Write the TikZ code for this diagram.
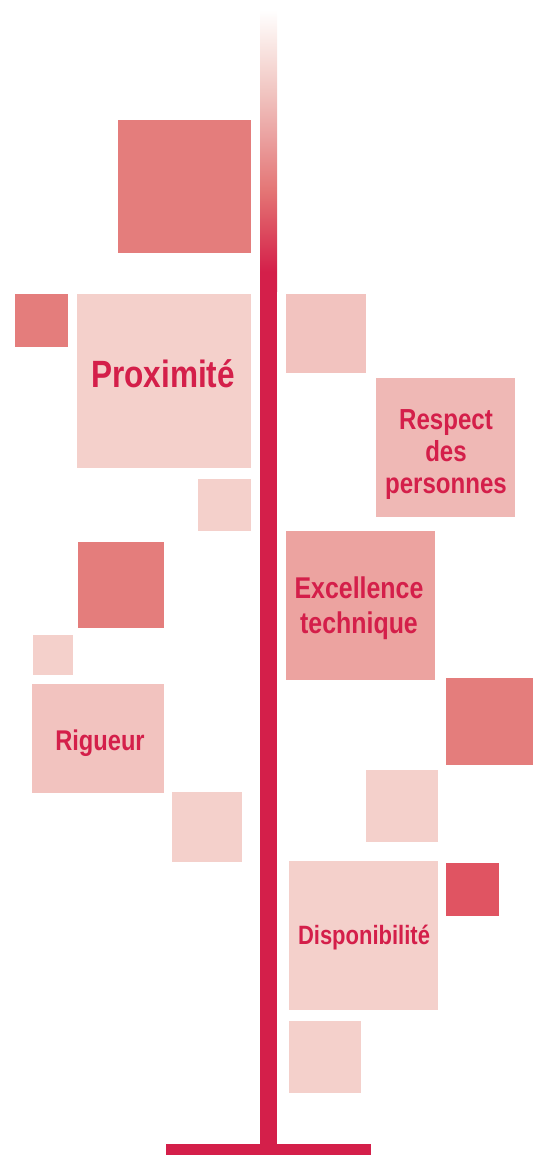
\documentclass[tikz,border=0pt]{standalone}
\usepackage{fontspec}
\setmainfont{Liberation Sans}[FakeStretch=0.83]
\definecolor{crimson}{HTML}{D41F4A}
\definecolor{sqdark}{HTML}{E47D7C}
\definecolor{sqlight}{HTML}{F4D0CB}
\definecolor{sqmed}{HTML}{F2C3BF}
\definecolor{sqrose}{HTML}{EFB8B5}
\definecolor{sqdeep}{HTML}{ECA3A0}
\definecolor{sqred}{HTML}{E05462}
\definecolor{fadeA}{HTML}{DC4A5E}
\definecolor{fadeB}{HTML}{E47575}
\definecolor{fadeC}{HTML}{EA9E9D}
\definecolor{fadeD}{HTML}{F1C6C2}
\definecolor{fadeE}{HTML}{FAEAE7}
% trunk top: white fading down into crimson (path maps to 25bp..75bp)
\pgfdeclareverticalshading{trunkfade}{100bp}{%
  color(0bp)=(crimson); color(25bp)=(crimson); color(28.6bp)=(crimson);
  color(35.7bp)=(fadeA); color(42.9bp)=(fadeB); color(51.8bp)=(fadeC);
  color(60.7bp)=(fadeD); color(69.6bp)=(fadeE); color(75bp)=(white);
  color(100bp)=(white)}
\tikzset{
  sq/.style={fill=#1, draw=none, inner sep=0pt, outer sep=0pt, anchor=north west},
  lbl/.style={text=crimson, font=\bfseries\fontsize{#1}{#1}\selectfont, anchor=base, inner sep=0pt},
}
\begin{document}
\begin{tikzpicture}[x=1pt, y=-1pt]
\useasboundingbox (0,0) rectangle (535,1155);
% trunk and base
\shade[shading=trunkfade] (260,10) rectangle (277,292);
\fill[crimson] (260,290) rectangle (277,1145);
\fill[crimson] (166,1144) rectangle (371,1155);
% squares, left side
\node[sq=sqdark,  minimum width=133pt, minimum height=133pt] (s1)  at (118,120) {};
\node[sq=sqdark,  minimum width=53pt,  minimum height=53pt]  (s2)  at (15,294) {};
\node[sq=sqlight, minimum width=174pt, minimum height=174pt] (prox) at (77,294) {};
\node[sq=sqlight, minimum width=53pt,  minimum height=52pt]  (s6)  at (198,479) {};
\node[sq=sqdark,  minimum width=86pt,  minimum height=86pt]  (s7)  at (78,542) {};
\node[sq=sqlight, minimum width=40pt,  minimum height=40pt]  (s9)  at (33,635) {};
\node[sq=sqmed,   minimum width=132pt, minimum height=109pt] (rig) at (32,684) {};
\node[sq=sqlight, minimum width=70pt,  minimum height=70pt]  (s13) at (172,792) {};
% squares, right side
\node[sq=sqmed,   minimum width=80pt,  minimum height=79pt]  (s4)  at (286,294) {};
\node[sq=sqrose,  minimum width=139pt, minimum height=139pt] (resp) at (376,378) {};
\node[sq=sqdeep,  minimum width=149pt, minimum height=149pt] (exc) at (286,531) {};
\node[sq=sqdark,  minimum width=87pt,  minimum height=87pt]  (s11) at (446,678) {};
\node[sq=sqlight, minimum width=72pt,  minimum height=72pt]  (s12) at (366,770) {};
\node[sq=sqlight, minimum width=149pt, minimum height=149pt] (disp) at (289,861) {};
\node[sq=sqred,   minimum width=53pt,  minimum height=53pt]  (s15) at (446,863) {};
\node[sq=sqlight, minimum width=72pt,  minimum height=72pt]  (s16) at (289,1021) {};
% labels
\node[lbl=38] (tprox) at (163,387) {Proximité};
\node[lbl=29] (tresp1) at (446,429) {Respect};
\node[lbl=29] (tresp2) at (446,461) {des};
\node[lbl=29] (tresp3) at (446,493) {personnes};
\node[lbl=30] (texc1) at (359,598) {Excellence};
\node[lbl=30] (texc2) at (359,633) {technique};
\node[lbl=28.5] (trig) at (100,750) {Rigueur};
\node[lbl=26.5] (tdisp) at (364,944) {Disponibilité};
\end{tikzpicture}
\end{document}
